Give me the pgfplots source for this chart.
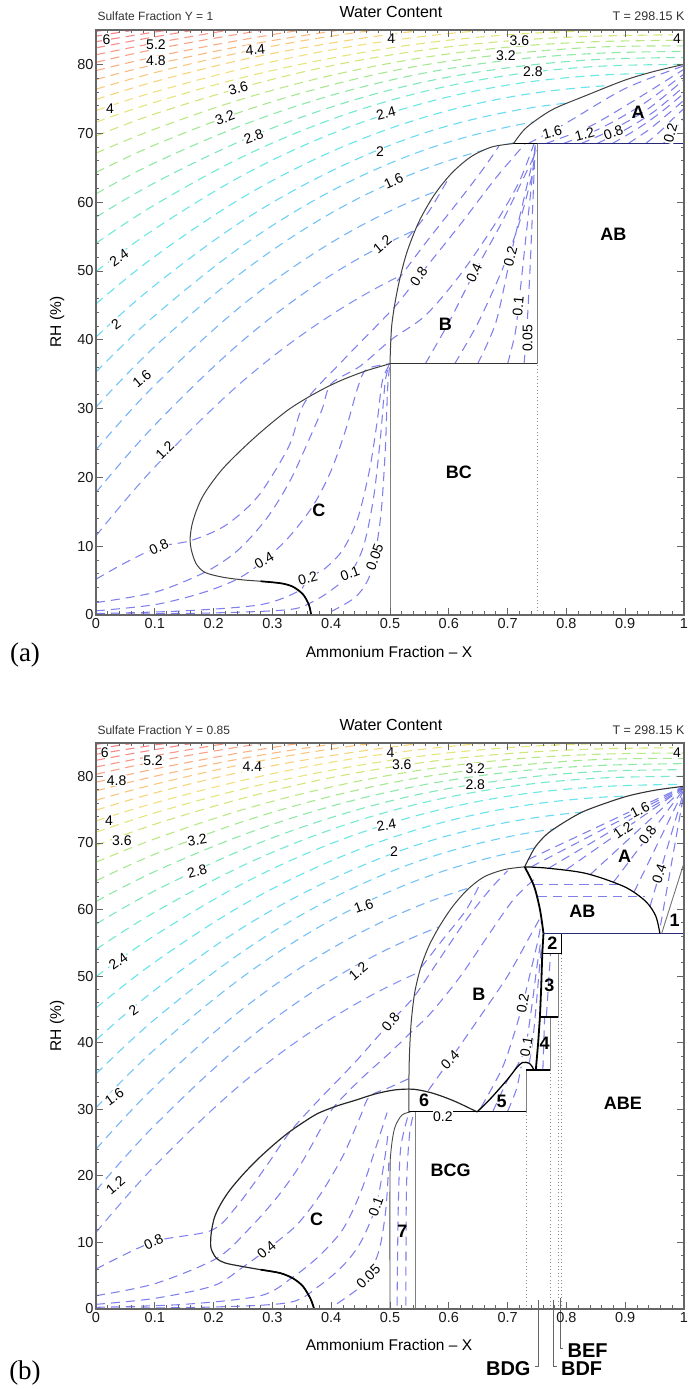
\documentclass[border=0pt]{standalone}
\usepackage{pgfplots}
\pgfplotsset{compat=1.18}
\usepackage{fontspec}
\setmainfont{Liberation Sans}
\newfontfamily\serifont{Liberation Serif}

\definecolor{inblue}{RGB}{112,112,236}
\definecolor{navyb}{RGB}{40,40,120}
\definecolor{c10}{RGB}{110,130,240}
\definecolor{c12}{RGB}{100,150,245}
\definecolor{c14}{RGB}{95,168,245}
\definecolor{c16}{RGB}{90,185,245}
\definecolor{c18}{RGB}{85,200,245}
\definecolor{c20}{RGB}{80,212,242}
\definecolor{c22}{RGB}{75,222,235}
\definecolor{c24}{RGB}{80,228,222}
\definecolor{c26}{RGB}{90,230,200}
\definecolor{c28}{RGB}{105,228,175}
\definecolor{c30}{RGB}{125,228,150}
\definecolor{c32}{RGB}{150,228,125}
\definecolor{c34}{RGB}{175,228,110}
\definecolor{c36}{RGB}{200,226,100}
\definecolor{c38}{RGB}{222,224,100}
\definecolor{c40}{RGB}{238,218,100}
\definecolor{c42}{RGB}{245,205,100}
\definecolor{c44}{RGB}{248,190,105}
\definecolor{c46}{RGB}{248,175,105}
\definecolor{c48}{RGB}{248,160,110}
\definecolor{c50}{RGB}{248,145,112}
\definecolor{c52}{RGB}{246,132,115}
\definecolor{c54}{RGB}{244,120,118}
\definecolor{c56}{RGB}{242,112,115}
\definecolor{c58}{RGB}{240,106,110}
\definecolor{c60}{RGB}{238,100,105}

\pgfplotsset{
 panel/.style={
  scale only axis, width=588pt,
  xmin=0, xmax=1, ymin=0, ymax=85,
  xtick={0,0.1,0.2,0.3,0.4,0.5,0.6,0.7,0.8,0.9,1},
  xticklabels={0,0.1,0.2,0.3,0.4,0.5,0.6,0.7,0.8,0.9,1},
  ytick={0,10,20,30,40,50,60,70,80},
  minor x tick num=4, minor y tick num=4,
  tick pos=both, tick align=inside,
  major tick length=7pt, minor tick length=3.5pt,
  axis line style={draw=black!60, line width=1.4pt},
  tick style={draw=black!60, line width=0.7pt},
  ticklabel style={font=\fontsize{14.5}{16}\selectfont, text=black!90},
  yticklabel style={xshift=1pt},
  /pgf/number format/assume math mode=true,
  clip mode=individual,
  axis on top,
 },
 ocs/.style={smooth, tension=0.6, dash pattern=on 9pt off 6pt, line width=1.1pt, draw opacity=0.85},
 ics/.style={smooth, tension=0.5, dash pattern=on 9pt off 6pt, line width=1.05pt, draw=inblue, draw opacity=0.9},
 wf/.style={fill=white, draw=none},
 bd/.style={draw=black!75, line width=1pt},
 gl/.style={draw=black!50, line width=0.8pt},
 tk/.style={draw=black, line width=1.7pt},
 dl/.style={draw=black!45, line width=0.8pt, dash pattern=on 1pt off 2.5pt},
}
\tikzset{
 cl/.style={font=\fontsize{14}{15}\selectfont, fill=white, inner sep=0.4pt},
 rl/.style={font=\fontsize{18}{20}\selectfont\bfseries},
 ll/.style={font=\fontsize{20}{22}\selectfont\bfseries},
}

\newcommand{\outercontours}{%
\addplot[ocs,draw=c10] coordinates {(0,11.5)(0.1,21.5)(0.25,34.0)(0.4,43.6)(0.55,50.6)(0.7,55.1)(0.85,57.4)(1,58.0)};
\addplot[ocs,draw=c12] coordinates {(0,17.8)(0.1,27.6)(0.25,39.9)(0.4,49.4)(0.55,56.2)(0.7,60.6)(0.85,62.9)(1,63.5)};
\addplot[ocs,draw=c14] coordinates {(0,24.0)(0.1,33.4)(0.25,45.1)(0.4,54.1)(0.55,60.6)(0.7,64.8)(0.85,66.9)(1,67.5)};
\addplot[ocs,draw=c16] coordinates {(0,30.2)(0.1,39.0)(0.25,49.9)(0.4,58.4)(0.55,64.5)(0.7,68.4)(0.85,70.5)(1,71.0)};
\addplot[ocs,draw=c18] coordinates {(0,35.3)(0.1,43.5)(0.25,53.7)(0.4,61.6)(0.55,67.3)(0.7,70.9)(0.85,72.8)(1,73.3)};
\addplot[ocs,draw=c20] coordinates {(0,40.4)(0.1,47.9)(0.25,57.3)(0.4,64.5)(0.55,69.8)(0.7,73.1)(0.85,74.8)(1,75.3)};
\addplot[ocs,draw=c22] coordinates {(0,45.2)(0.1,52.1)(0.25,60.7)(0.4,67.3)(0.55,72.1)(0.7,75.2)(0.85,76.8)(1,77.2)};
\addplot[ocs,draw=c24] coordinates {(0,49.9)(0.1,56.1)(0.25,63.9)(0.4,69.9)(0.55,74.2)(0.7,77.0)(0.85,78.4)(1,78.8)};
\addplot[ocs,draw=c26] coordinates {(0,54.0)(0.1,59.6)(0.25,66.6)(0.4,72.0)(0.55,75.9)(0.7,78.4)(0.85,79.7)(1,80.0)};
\addplot[ocs,draw=c28] coordinates {(0,57.8)(0.1,62.8)(0.25,69.0)(0.4,73.8)(0.55,77.3)(0.7,79.5)(0.85,80.7)(1,81.0)};
\addplot[ocs,draw=c30] coordinates {(0,61.2)(0.1,65.7)(0.25,71.2)(0.4,75.5)(0.55,78.6)(0.7,80.6)(0.85,81.6)(1,81.9)};
\addplot[ocs,draw=c32] coordinates {(0,64.3)(0.1,68.3)(0.25,73.2)(0.4,77.0)(0.55,79.8)(0.7,81.5)(0.85,82.5)(1,82.7)};
\addplot[ocs,draw=c34] coordinates {(0,67.1)(0.1,70.6)(0.25,75.0)(0.4,78.4)(0.55,80.9)(0.7,82.5)(0.85,83.3)(1,83.5)};
\addplot[ocs,draw=c36] coordinates {(0,69.6)(0.1,72.8)(0.25,76.7)(0.4,79.8)(0.55,82.0)(0.7,83.4)(0.85,84.1)(1,84.3)};
\addplot[ocs,draw=c38] coordinates {(0,71.6)(0.1,74.5)(0.25,78.1)(0.4,80.9)(0.55,83.0)(0.7,84.3)(0.85,84.9)(1,85.1)};
\addplot[ocs,draw=c40] coordinates {(0,73.3)(0.1,76.0)(0.25,79.4)(0.4,82.1)(0.55,84.0)(0.7,85.2)(0.85,85.8)(1,86.0)};
\addplot[ocs,draw=c42] coordinates {(0,74.9)(0.1,77.5)(0.25,80.7)(0.4,83.1)(0.55,84.9)(0.7,86.1)(0.85,86.6)(1,86.8)};
\addplot[ocs,draw=c44] coordinates {(0,76.4)(0.1,78.8)(0.25,81.8)(0.4,84.1)(0.55,85.7)(0.7,86.8)};
\addplot[ocs,draw=c46] coordinates {(0,77.8)(0.1,80.0)(0.25,82.7)(0.4,84.8)(0.55,86.4)(0.7,87.4)};
\addplot[ocs,draw=c48] coordinates {(0,79.1)(0.1,81.1)(0.25,83.6)(0.4,85.6)(0.55,87.0)};
\addplot[ocs,draw=c50] coordinates {(0,80.3)(0.1,82.2)(0.25,84.5)(0.4,86.3)(0.55,87.6)};
\addplot[ocs,draw=c52] coordinates {(0,81.4)(0.1,83.1)(0.25,85.3)(0.4,87.0)};
\addplot[ocs,draw=c54] coordinates {(0,82.4)(0.1,84.0)(0.25,86.1)(0.4,87.7)};
\addplot[ocs,draw=c56] coordinates {(0,83.3)(0.1,84.7)(0.25,86.5)};
\addplot[ocs,draw=c58] coordinates {(0,84.1)(0.1,85.4)(0.25,86.9)};
\addplot[ocs,draw=c60] coordinates {(0,84.8)(0.1,85.9)(0.25,87.2)};
}

\begin{document}
\begin{tikzpicture}[x=1pt,y=1pt]
\useasboundingbox (0,0) rectangle (688,1389);

%================ PANEL (a) ================
\begin{axis}[panel, at={(96pt,774pt)}, anchor=south west, height=585pt]
\outercontours
% white regions
\addplot[wf] coordinates {(0.366,0)(0.362,1.5)(0.352,3)(0.335,4.1)(0.315,4.6)(0.28,4.9)(0.25,5.1)(0.215,5.5)(0.185,6.2)(0.17,7.5)(0.162,9.5)(0.16,11)(0.163,13)(0.17,15)(0.18,17)(0.195,19)(0.215,21.2)(0.24,23.4)(0.27,25.8)(0.30,28)(0.33,30)(0.36,31.6)(0.39,33)(0.42,34.2)(0.46,35.5)(0.5,36.5)(0.5,0)} --cycle;
\addplot[wf] coordinates {(0.5,36.5)(0.503,42.1)(0.513,47.4)(0.528,52.5)(0.549,57.1)(0.575,61.0)(0.605,64.2)(0.638,66.6)(0.673,68.0)(0.71,68.5)(0.75,68.5)(0.75,36.5)} --cycle;
\addplot[wf] coordinates {(0.71,68.5)(0.728,70.5)(0.75,72.0)(0.78,73.6)(0.834,75.5)(0.899,77.7)(0.95,79)(1,80)(1,68.5)} --cycle;
\addplot[wf] coordinates {(0.5,0)(1,0)(1,68.5)(0.75,68.5)(0.75,36.5)(0.5,36.5)} --cycle;
% low contours through C and B
\addplot[ics] coordinates {(0.40,0.5)(0.44,2.5)(0.462,5)(0.474,8.4)(0.485,15)(0.492,24)(0.496,33)(0.5,36.5)};
\addplot[ics] coordinates {(0,0.1)(0.2,0.3)(0.33,0.8)(0.37,2)(0.40,3.6)(0.432,6)(0.455,10)(0.472,17)(0.484,26)(0.492,34)(0.5,36.5)};
\addplot[ics] coordinates {(0,0.2)(0.15,0.6)(0.28,1.5)(0.345,3.5)(0.36,5.3)(0.39,6.8)(0.42,9.5)(0.445,14)(0.465,21)(0.478,28)(0.487,34)(0.5,36.5)};
\addplot[ics] coordinates {(0,0.6)(0.1,1.5)(0.18,3.2)(0.24,5.2)(0.286,7.9)(0.33,11.5)(0.37,16)(0.40,21)(0.425,27)(0.445,33)(0.46,35.7)(0.5,36.5)};
\addplot[ics] coordinates {(0,1.8)(0.1,3.3)(0.185,6.2)(0.24,9.3)(0.29,14)(0.33,19.5)(0.365,26)(0.385,30)(0.40,33.6)(0.45,36.2)(0.502,40)(0.56,43.5)(0.62,49.5)(0.68,57)(0.72,63)(0.745,68.5)};
\addplot[ics] coordinates {(0,5.2)(0.05,7.6)(0.107,9.9)(0.161,10.8)(0.22,13)(0.276,17.3)(0.328,24.5)(0.355,30.9)(0.42,37)(0.505,44.5)(0.55,49.3)(0.62,56.8)(0.68,63.5)(0.73,68.5)};
% B region
\addplot[ics] coordinates {(0.512,48.5)(0.56,54)(0.62,60.5)(0.66,65)(0.685,68.1)};
\addplot[ics] coordinates {(0.53,54.8)(0.565,58.5)(0.60,63.5)};
\addplot[ics] coordinates {(0.56,36.5)(0.60,42.5)(0.643,49.7)(0.69,57)(0.73,64)(0.75,67.5)};
\addplot[ics] coordinates {(0.61,36.5)(0.65,42.5)(0.69,50)(0.72,57)(0.745,65)};
\addplot[ics] coordinates {(0.649,36.5)(0.68,42.5)(0.705,52.1)(0.725,59.5)(0.747,67.5)};
\addplot[ics] coordinates {(0.70,36.5)(0.713,41)(0.72,46)(0.73,54)(0.74,62)(0.747,68.5)};
\addplot[ics] coordinates {(0.728,36.5)(0.733,42)(0.738,50)(0.743,60)(0.747,68.5)};
% A region
\addplot[ics] coordinates {(0.735,68.5)(0.80,71.5)(0.90,76.5)(1.0,79.8)};
\addplot[ics] coordinates {(0.765,68.5)(0.84,71)(0.92,75)(1,79.3)};
\addplot[ics] coordinates {(0.795,68.5)(0.86,70.8)(0.93,74.2)(1,78.6)};
\addplot[ics] coordinates {(0.825,68.5)(0.88,70.6)(0.94,73.6)(1,77.8)};
\addplot[ics] coordinates {(0.852,68.5)(0.90,70.5)(0.95,73.2)(1,76.8)};
\addplot[ics] coordinates {(0.878,68.5)(0.92,70.6)(0.96,73)(1,75.8)};
\addplot[ics] coordinates {(0.905,68.5)(0.94,70.5)(0.97,72.6)(1,74.8)};
\addplot[ics] coordinates {(0.935,68.5)(0.96,70.3)(0.98,72)(1,73.6)};
\addplot[ics] coordinates {(0.965,68.5)(0.98,70.2)(1,72.2)};
% boundaries
\addplot[bd, smooth, tension=0.5] coordinates {(0.366,0)(0.362,1.5)(0.352,3)(0.335,4.1)(0.315,4.6)(0.28,4.9)(0.25,5.1)(0.215,5.5)(0.185,6.2)(0.17,7.5)(0.162,9.5)(0.16,11)(0.163,13)(0.17,15)(0.18,17)(0.195,19)(0.215,21.2)(0.24,23.4)(0.27,25.8)(0.30,28)(0.33,30)(0.36,31.6)(0.39,33)(0.42,34.2)(0.46,35.5)(0.5,36.5)};
\addplot[tk, smooth] coordinates {(0.366,0)(0.362,1.5)(0.352,3)(0.335,4.1)(0.315,4.6)(0.28,4.9)};
\addplot[gl] coordinates {(0.5,0)(0.5,36.5)};
\addplot[bd, smooth] coordinates {(0.5,36.5)(0.503,42.1)(0.513,47.4)(0.528,52.5)(0.549,57.1)(0.575,61.0)(0.605,64.2)(0.638,66.6)(0.673,68.0)(0.71,68.5)};
\addplot[gl] coordinates {(0.75,36.5)(0.75,68.5)};
\addplot[draw=black!80, line width=1.2pt] coordinates {(0.5,36.5)(0.75,36.5)};
\addplot[tk] coordinates {(0.71,68.5)(0.75,68.5)};
\addplot[draw=navyb, line width=1.3pt] coordinates {(0.75,68.5)(1,68.5)};
\addplot[bd, smooth] coordinates {(0.71,68.5)(0.728,70.5)(0.75,72.0)(0.78,73.6)(0.834,75.5)(0.899,77.7)(0.95,79)(1,80)};
\addplot[dl] coordinates {(0.75,0)(0.75,36.5)};
% region labels
\node[rl] at (axis cs:0.922,73.1) {A};
\node[rl] at (axis cs:0.88,55.3) {AB};
\node[rl] at (axis cs:0.594,42.3) {B};
\node[rl] at (axis cs:0.617,20.8) {BC};
\node[rl] at (axis cs:0.379,15.2) {C};
% contour labels
\node[cl] at (axis cs:0.018,83.6) {6};
\node[cl] at (axis cs:0.102,82.9) {5.2};
\node[cl] at (axis cs:0.102,80.5) {4.8};
\node[cl,rotate=5] at (axis cs:0.271,82.1) {4.4};
\node[cl] at (axis cs:0.502,83.8) {4};
\node[cl] at (axis cs:0.72,83.5) {3.6};
\node[cl] at (axis cs:0.697,81.3) {3.2};
\node[cl] at (axis cs:0.743,78.9) {2.8};
\node[cl] at (axis cs:0.988,83.7) {4};
\node[cl] at (axis cs:0.024,73.6) {4};
\node[cl,rotate=15] at (axis cs:0.242,76.5) {3.6};
\node[cl,rotate=20] at (axis cs:0.219,72.2) {3.2};
\node[cl,rotate=20] at (axis cs:0.268,69.5) {2.8};
\node[cl,rotate=15] at (axis cs:0.493,72.9) {2.4};
\node[cl] at (axis cs:0.483,67.3) {2};
\node[cl,rotate=25] at (axis cs:0.506,63.0) {1.6};
\node[cl,rotate=40] at (axis cs:0.487,53.9) {1.2};
\node[cl,rotate=35] at (axis cs:0.039,51.9) {2.4};
\node[cl,rotate=35] at (axis cs:0.034,42.2) {2};
\node[cl,rotate=40] at (axis cs:0.078,34.3) {1.6};
\node[cl,rotate=45] at (axis cs:0.117,23.9) {1.2};
\node[cl,rotate=25] at (axis cs:0.107,9.9) {0.8};
\node[cl,rotate=15] at (axis cs:0.776,70.1) {1.6};
\node[cl,rotate=15] at (axis cs:0.831,69.9) {1.2};
\node[cl,rotate=20] at (axis cs:0.88,70.1) {0.8};
\node[cl,rotate=75] at (axis cs:0.977,70.0) {0.2};
\node[cl,rotate=55] at (axis cs:0.549,49.2) {0.8};
\node[cl,rotate=65] at (axis cs:0.643,49.7) {0.4};
\node[cl,rotate=75] at (axis cs:0.705,52.1) {0.2};
\node[cl,rotate=85] at (axis cs:0.718,44.9) {0.1};
\node[cl,rotate=90] at (axis cs:0.734,40.2) {0.05};
\node[cl,rotate=30] at (axis cs:0.286,7.9) {0.4};
\node[cl,rotate=15] at (axis cs:0.36,5.3) {0.2};
\node[cl,rotate=20] at (axis cs:0.432,6.0) {0.1};
\node[cl,rotate=70] at (axis cs:0.474,8.4) {0.05};
\end{axis}

%================ PANEL (b) ================
\begin{axis}[panel, at={(96pt,80pt)}, anchor=south west, height=566pt]
\outercontours
% white regions
\addplot[wf] coordinates {(0.371,0)(0.365,1.5)(0.352,3.4)(0.335,4.6)(0.313,5.4)(0.28,5.9)(0.248,6.4)(0.22,6.9)(0.205,7.6)(0.196,9)(0.195,10.4)(0.197,12)(0.202,13.9)(0.213,15.9)(0.228,17.9)(0.25,20.2)(0.274,22.4)(0.3,24.5)(0.326,26.4)(0.352,28)(0.378,29.4)(0.41,30.5)(0.443,31.4)(0.475,32.3)(0.508,32.9)(0.532,33.0)(0.532,29.6)(0.52,29.1)(0.508,27.2)(0.502,24)(0.5,20)(0.5,0)} --cycle;
\addplot[wf] coordinates {(0.5,0)(0.5,20)(0.502,24)(0.508,27.2)(0.52,29.1)(0.535,29.6)(0.543,29.6)(0.543,0)} --cycle;
\addplot[wf] coordinates {(0.543,0)(1,0)(1,56.4)(0.792,56.4)(0.792,53.4)(0.786,53.4)(0.786,43.9)(0.772,43.9)(0.772,35.9)(0.732,35.9)(0.732,29.6)(0.543,29.6)} --cycle;
\addplot[wf] coordinates {(0.532,29.6)(0.532,33.0)(0.54,33)(0.573,32.4)(0.61,31.2)(0.648,29.6)} --cycle;
\addplot[wf] coordinates {(0.648,29.6)(0.67,31.5)(0.70,34.5)(0.715,36.2)(0.725,37)(0.737,36.9)(0.745,35.9)(0.732,35.9)(0.732,29.6)} --cycle;
\addplot[wf] coordinates {(0.532,33)(0.533,38)(0.536,43)(0.542,47.5)(0.552,51.2)(0.566,54.5)(0.585,57.6)(0.607,60.5)(0.632,63)(0.66,64.9)(0.695,66)(0.729,66.4)(0.745,63.5)(0.755,60)(0.761,56.4)(0.759,53.4)(0.757,48)(0.755,43.9)(0.752,40)(0.748,35.9)(0.745,35.9)(0.737,36.9)(0.725,37)(0.715,36.2)(0.70,34.5)(0.67,31.5)(0.648,29.6)(0.61,31.2)(0.573,32.4)(0.54,33)} --cycle;
\addplot[wf] coordinates {(0.748,35.9)(0.772,35.9)(0.772,43.9)(0.755,43.9)(0.752,40)} --cycle;
\addplot[wf] coordinates {(0.755,43.9)(0.786,43.9)(0.786,53.4)(0.759,53.4)(0.757,48)} --cycle;
\addplot[wf] coordinates {(0.759,53.4)(0.792,53.4)(0.792,56.4)(0.761,56.4)} --cycle;
\addplot[wf] coordinates {(0.729,66.4)(0.768,66.2)(0.834,65.4)(0.899,63.4)(0.935,61.2)(0.952,59)(0.959,56.4)(0.761,56.4)(0.755,60)(0.745,63.5)} --cycle;
\addplot[wf] coordinates {(0.729,66.4)(0.737,67.8)(0.748,69.5)(0.768,71.4)(0.80,73.3)(0.834,74.9)(0.899,76.9)(0.95,77.9)(1,78.5)(1,67)(0.962,56.4)(0.959,56.4)(0.952,59)(0.935,61.2)(0.899,63.4)(0.834,65.4)(0.768,66.2)} --cycle;
\addplot[wf] coordinates {(0.962,56.4)(1,56.4)(1,67)} --cycle;
% low contours
\addplot[ics] coordinates {(0.41,0.8)(0.445,3)(0.463,4.9)(0.482,9)(0.493,15)(0.498,22)};
\addplot[ics] coordinates {(0,0.1)(0.2,0.3)(0.33,1)(0.38,3.5)(0.42,6.5)(0.45,10)(0.476,15.4)(0.49,22)(0.497,26.5)};
\addplot[ics] coordinates {(0,0.25)(0.15,0.7)(0.28,2)(0.335,4.8)(0.38,8)(0.42,12)(0.45,17.5)(0.475,24)(0.495,29.5)};
\addplot[ics] coordinates {(0,0.7)(0.1,1.6)(0.2,3.5)(0.25,6.3)(0.29,8.9)(0.34,12.5)(0.38,17)(0.42,23)(0.45,29)(0.465,31.9)(0.50,33.3)(0.532,34.6)};
\addplot[ics] coordinates {(0,2.0)(0.1,3.8)(0.205,7.6)(0.26,12)(0.31,17)(0.35,22)(0.385,27.5)(0.405,30.4)(0.45,34.5)(0.50,38.5)(0.535,41.5)(0.57,44.5)(0.62,50)(0.67,56.5)(0.71,61.5)(0.745,64.5)};
\addplot[ics] coordinates {(0,6.0)(0.098,10.1)(0.196,11.8)(0.24,15.5)(0.29,21.5)(0.33,26.6)(0.38,31.5)(0.44,37)(0.501,43.1)(0.54,46.8)(0.58,52)(0.63,58.5)(0.67,63)(0.70,65.8)};
% B region
\addplot[ics] coordinates {(0.553,51.3)(0.59,55.5)(0.63,60)(0.655,64.2)};
\addplot[ics] coordinates {(0.565,32.8)(0.602,37.4)(0.65,43.5)(0.70,50)(0.735,55.5)(0.757,59)};
\addplot[ics] coordinates {(0.655,30.3)(0.69,36)(0.71,41)(0.726,45.9)(0.74,51)(0.752,55.5)(0.758,58.5)};
\addplot[ics] coordinates {(0.712,35.9)(0.725,38)(0.732,40)(0.742,46)(0.75,51.5)(0.757,55.5)};
\addplot[ics] coordinates {(0.737,37)(0.743,40.5)(0.748,45)(0.753,50)(0.757,54)};
% region 7, 5, boxes
\addplot[ics] coordinates {(0.512,0.5)(0.514,15)(0.518,24)(0.53,28.8)};
\addplot[ics] coordinates {(0.527,0.5)(0.528,18)(0.533,26)(0.54,29.3)};
\addplot[ics] coordinates {(0.675,29.7)(0.695,33.5)(0.705,35.2)};
\addplot[ics] coordinates {(0.70,29.7)(0.715,33)(0.723,36.4)};
\addplot[ics] coordinates {(0.76,36)(0.763,43.8)};
\addplot[ics] coordinates {(0.766,44)(0.773,53.3)};
% AB region
\addplot[ics] coordinates {(0.745,63.8)(0.888,63.8)};
\addplot[ics] coordinates {(0.752,61.9)(0.933,61.9)};
% A region
\addplot[ics] coordinates {(0.735,67.5)(1,78.5)};
\addplot[ics] coordinates {(0.74,66.4)(1,78.4)};
\addplot[ics] coordinates {(0.77,66.2)(1,78.3)};
\addplot[ics] coordinates {(0.80,66)(1,78.3)};
\addplot[ics] coordinates {(0.84,65.2)(1,78.2)};
\addplot[ics] coordinates {(0.88,64.1)(1,78.1)};
\addplot[ics] coordinates {(0.915,62.6)(1,78)};
\addplot[ics] coordinates {(0.942,60.4)(1,77.8)};
\addplot[ics] coordinates {(0.96,57.6)(1,77.5)};
% boundaries
\addplot[draw=black!85, line width=1.2pt, smooth, tension=0.5] coordinates {(0.371,0)(0.365,1.5)(0.352,3.4)(0.335,4.6)(0.313,5.4)(0.28,5.9)(0.248,6.4)(0.22,6.9)(0.205,7.6)(0.196,9)(0.195,10.4)(0.197,12)(0.202,13.9)(0.213,15.9)(0.228,17.9)(0.25,20.2)(0.274,22.4)(0.3,24.5)(0.326,26.4)(0.352,28)(0.378,29.4)(0.41,30.5)(0.443,31.4)(0.475,32.3)(0.508,32.9)(0.54,33)(0.573,32.4)(0.61,31.2)(0.648,29.6)};
\addplot[tk, smooth] coordinates {(0.371,0)(0.365,1.5)(0.352,3.4)(0.335,4.6)(0.313,5.4)(0.28,5.9)};
\addplot[draw=black!70, line width=0.9pt, smooth] coordinates {(0.5,0)(0.5,20)(0.502,24)(0.508,27.2)(0.52,29.1)(0.535,29.6)};
\addplot[gl] coordinates {(0.543,0)(0.543,29.6)};
\addplot[draw=black, line width=1.2pt] coordinates {(0.532,29.6)(0.732,29.6)};
\addplot[bd, smooth] coordinates {(0.532,29.6)(0.532,33)(0.533,38)(0.536,43)(0.542,47.5)(0.552,51.2)(0.566,54.5)(0.585,57.6)(0.607,60.5)(0.632,63)(0.66,64.9)(0.695,66)(0.729,66.4)};
\addplot[draw=black, line width=1.8pt, smooth] coordinates {(0.729,66.4)(0.745,63.5)(0.755,60)(0.761,56.4)};
\addplot[draw=black, line width=1.8pt] coordinates {(0.761,56.4)(0.759,53.4)(0.757,48)(0.755,43.9)(0.752,40)(0.748,35.9)};
\addplot[draw=black, line width=1.3pt, smooth] coordinates {(0.648,29.6)(0.67,31.5)(0.70,34.5)(0.715,36.2)(0.725,37)(0.737,36.9)(0.745,35.9)};
\addplot[gl] coordinates {(0.732,29.6)(0.732,35.9)};
\addplot[draw=black, line width=1.3pt] coordinates {(0.732,35.9)(0.772,35.9)};
\addplot[gl] coordinates {(0.772,35.9)(0.772,43.9)};
\addplot[draw=black, line width=1.8pt] coordinates {(0.755,43.9)(0.786,43.9)};
\addplot[gl] coordinates {(0.786,43.9)(0.786,53.4)};
\addplot[draw=black, line width=1.8pt] coordinates {(0.759,53.4)(0.792,53.4)};
\addplot[draw=black, line width=1pt] coordinates {(0.792,53.4)(0.792,56.4)};
\addplot[draw=navyb, line width=1.3pt] coordinates {(0.761,56.4)(1,56.4)};
\addplot[draw=black, line width=1.2pt, smooth] coordinates {(0.729,66.4)(0.768,66.2)(0.834,65.4)(0.899,63.4)(0.935,61.2)(0.952,59)(0.959,56.4)};
\addplot[draw=black!80, line width=1.1pt, smooth] coordinates {(0.729,66.4)(0.737,67.8)(0.748,69.5)(0.768,71.4)(0.80,73.3)(0.834,74.9)(0.899,76.9)(0.95,77.9)(1,78.5)};
\addplot[draw=black!55, line width=0.9pt] coordinates {(0.962,56.4)(1,67)};
\addplot[dl] coordinates {(0.732,0)(0.732,29.6)};
\addplot[dl] coordinates {(0.772,0)(0.772,35.9)};
\addplot[dl] coordinates {(0.786,0)(0.786,43.9)};
\addplot[dl] coordinates {(0.792,0)(0.792,53.4)};
% leader lines
\draw[black!60, line width=0.6pt] (axis cs:0.752,1.3) -- (axis cs:0.752,-8.6) -- (axis cs:0.746,-8.6);
\draw[black!60, line width=0.6pt] (axis cs:0.778,1.3) -- (axis cs:0.778,-8.6) -- (axis cs:0.784,-8.6);
\draw[black!60, line width=0.6pt] (axis cs:0.789,1.6) -- (axis cs:0.789,-5.9) -- (axis cs:0.795,-5.9);
\node[ll, anchor=east] at (axis cs:0.745,-8.9) {BDG};
\node[ll, anchor=west] at (axis cs:0.785,-8.9) {BDF};
\node[ll, anchor=west] at (axis cs:0.796,-6.2) {BEF};
% region labels
\node[rl] at (axis cs:0.899,68) {A};
\node[rl] at (axis cs:0.827,59.7) {AB};
\node[rl] at (axis cs:0.984,58.3) {1};
\node[rl] at (axis cs:0.776,54.9) {2};
\node[rl] at (axis cs:0.771,48.6) {3};
\node[rl] at (axis cs:0.763,39.9) {4};
\node[rl] at (axis cs:0.69,31.2) {5};
\node[rl] at (axis cs:0.558,31.4) {6};
\node[rl] at (axis cs:0.521,11.6) {7};
\node[rl] at (axis cs:0.651,47.2) {B};
\node[rl] at (axis cs:0.375,13.4) {C};
\node[rl] at (axis cs:0.603,20.9) {BCG};
\node[rl] at (axis cs:0.896,30.9) {ABE};
% contour labels
\node[cl] at (axis cs:0.015,83.6) {6};
\node[cl] at (axis cs:0.097,82.4) {5.2};
\node[cl] at (axis cs:0.035,79.4) {4.8};
\node[cl] at (axis cs:0.266,81.4) {4.4};
\node[cl] at (axis cs:0.501,83.6) {4};
\node[cl] at (axis cs:0.52,81.7) {3.6};
\node[cl] at (axis cs:0.645,81.2) {3.2};
\node[cl] at (axis cs:0.645,78.7) {2.8};
\node[cl] at (axis cs:0.988,83.6) {4};
\node[cl] at (axis cs:0.022,73.4) {4};
\node[cl] at (axis cs:0.044,70.4) {3.6};
\node[cl,rotate=10] at (axis cs:0.172,70.4) {3.2};
\node[cl,rotate=15] at (axis cs:0.172,65.7) {2.8};
\node[cl,rotate=10] at (axis cs:0.494,72.7) {2.4};
\node[cl] at (axis cs:0.507,68.7) {2};
\node[cl,rotate=20] at (axis cs:0.455,60.5) {1.6};
\node[cl,rotate=35] at (axis cs:0.038,52.2) {2.4};
\node[cl,rotate=35] at (axis cs:0.064,44.9) {2};
\node[cl,rotate=35] at (axis cs:0.031,31.9) {1.6};
\node[cl,rotate=40] at (axis cs:0.446,50.7) {1.2};
\node[cl,rotate=40] at (axis cs:0.033,18.6) {1.2};
\node[cl,rotate=25] at (axis cs:0.098,10.1) {0.8};
\node[cl,rotate=50] at (axis cs:0.501,43.1) {0.8};
\node[cl,rotate=45] at (axis cs:0.602,37.4) {0.4};
\node[cl,rotate=80] at (axis cs:0.726,45.9) {0.2};
\node[cl,rotate=80] at (axis cs:0.732,39.4) {0.1};
\node[cl,rotate=40] at (axis cs:0.29,8.9) {0.4};
\node[cl,rotate=70] at (axis cs:0.476,15.4) {0.1};
\node[cl,rotate=45] at (axis cs:0.463,4.9) {0.05};
\node[cl] at (axis cs:0.59,28.9) {0.2};
\node[cl,rotate=27] at (axis cs:0.925,74.9) {1.6};
\node[cl,rotate=35] at (axis cs:0.896,71.9) {1.2};
\node[cl,rotate=53] at (axis cs:0.938,71.2) {0.8};
\node[cl,rotate=72] at (axis cs:0.958,65.4) {0.4};
\end{axis}

% titles and labels
\node[font=\fontsize{16}{18}\selectfont] at (391,1377) {Water Content};
\node[font=\fontsize{12}{14}\selectfont, anchor=west, text=black!80] at (94,1373) {Sulfate Fraction Y = 1};
\node[font=\fontsize{12.5}{14}\selectfont, anchor=east, text=black!80] at (688,1373) {T = 298.15 K};
\node[font=\fontsize{15.5}{17}\selectfont] at (389,737) {Ammonium Fraction -- X};
\node[font=\fontsize{15.5}{17}\selectfont, rotate=90] at (57,1067) {RH (\%)};
\node[font=\serifont\fontsize{27}{29}\selectfont] at (25,734) {(a)};

\node[font=\fontsize{16}{18}\selectfont] at (391,664) {Water Content};
\node[font=\fontsize{12}{14}\selectfont, anchor=west, text=black!80] at (94,659) {Sulfate Fraction Y = 0.85};
\node[font=\fontsize{12.5}{14}\selectfont, anchor=east, text=black!80] at (688,659) {T = 298.15 K};
\node[font=\fontsize{15.5}{17}\selectfont] at (389,44) {Ammonium Fraction -- X};
\node[font=\fontsize{15.5}{17}\selectfont, rotate=90] at (57,363) {RH (\%)};
\node[font=\serifont\fontsize{27}{29}\selectfont] at (25,16) {(b)};
\end{tikzpicture}
\end{document}
